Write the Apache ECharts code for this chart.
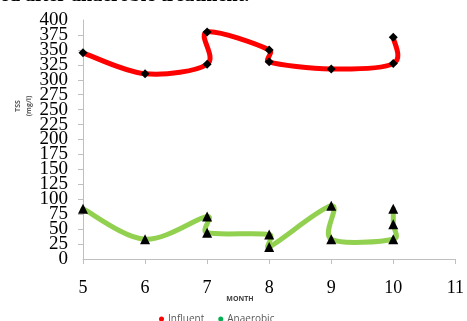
<!DOCTYPE html>
<html>
<head>
<meta charset="utf-8">
<script src="https://cdn.jsdelivr.net/npm/echarts@6/dist/echarts.min.js"></script>
<style>
  html, body { margin: 0; padding: 0; background: #fff; }
  #chart { width: 467px; height: 321px; }
</style>
</head>
<body>
<div id="chart"></div>
<script>
// Monthly TSS samples (mg/l); repeated months hold several readings
const influentMonths = [5, 6, 7, 7, 8, 8, 9, 10, 10];
const influentTSS    = [345, 310, 326, 380, 350, 330, 318, 327, 371];

const anaerobicMonths = [5, 6, 7, 7, 8, 8, 9, 9, 10, 10, 10];
const anaerobicTSS    = [84, 33, 71, 44, 41, 20, 89, 33, 33, 58, 84];

const xTicks = [5, 6, 7, 8, 9, 10, 11];
const yTicks = [0, 25, 50, 75, 100, 125, 150, 175, 200, 225, 250, 275, 300, 325, 350, 375, 400];

const pairs = (xs, ys) => xs.map((x, i) => [x, ys[i]]);
const influentData = pairs(influentMonths, influentTSS);
const anaerobicData = pairs(anaerobicMonths, anaerobicTSS);

const dist = (a, b) => Math.hypot(b[0] - a[0], b[1] - a[1]);

// Smoothed-line spline through pixel points: cubic Bezier segments with
// tension 1/6, each handle capped at half the segment length, so repeated
// months form small loops like spreadsheet "smoothed lines".
function splinePath(pts) {
  const n = pts.length;
  let d = 'M' + pts[0][0] + ' ' + pts[0][1];
  for (let i = 0; i < n - 1; i++) {
    const p0 = pts[Math.max(i - 1, 0)];
    const p1 = pts[i];
    const p2 = pts[i + 1];
    const p3 = pts[Math.min(i + 2, n - 1)];
    const d12 = dist(p1, p2);
    const d02 = dist(p0, p2);
    const d13 = dist(p1, p3);
    let f1 = 1 / 6, f2 = 1 / 6;
    if (d02 / 6 > d12 / 2 && d02 > 0) f1 = d12 / (2 * d02);
    if (d13 / 6 > d12 / 2 && d13 > 0) f2 = d12 / (2 * d13);
    const c1x = p1[0] + (p2[0] - p0[0]) * f1;
    const c1y = p1[1] + (p2[1] - p0[1]) * f1;
    const c2x = p2[0] - (p3[0] - p1[0]) * f2;
    const c2y = p2[1] - (p3[1] - p1[1]) * f2;
    d += ' C' + c1x + ' ' + c1y + ' ' + c2x + ' ' + c2y + ' ' + p2[0] + ' ' + p2[1];
  }
  return d;
}

function curveSeries(name, data, color) {
  return {
    name: name,
    type: 'custom',
    coordinateSystem: 'cartesian2d',
    encode: { x: 0, y: 1 },
    data: data,
    z: 2,
    renderItem: function (params, api) {
      if (params.dataIndex !== 0) return null;
      const pts = data.map(p => api.coord(p));
      return {
        type: 'path',
        shape: { pathData: splinePath(pts) },
        style: { stroke: color, lineWidth: 5, fill: 'none', lineJoin: 'round', lineCap: 'round' }
      };
    }
  };
}

function markerSeries(name, data, symbol, size) {
  return {
    name: name,
    type: 'scatter',
    data: data,
    symbol: symbol,
    symbolSize: size,
    itemStyle: { color: '#000', opacity: 1 },
    z: 3
  };
}

const yLabelStyle = { fontFamily: 'Liberation Serif', fontSize: 19, color: '#000', margin: 15 };
const yMin = yTicks[0];
const yMax = yTicks[yTicks.length - 1];

const chart = echarts.init(document.getElementById('chart'));
chart.setOption({
  animation: false,
  grid: { left: 83, right: 5, top: 20, bottom: 62, containLabel: false },
  xAxis: {
    type: 'value',
    min: xTicks[0],
    max: xTicks[xTicks.length - 1],
    interval: 1,
    axisLine: { lineStyle: { color: '#bfbfbf', width: 1 } },
    axisTick: { show: true, length: 5, lineStyle: { color: '#bfbfbf' } },
    axisLabel: { fontFamily: 'Liberation Serif', fontSize: 18, color: '#000', margin: 20 },
    splitLine: { show: false }
  },
  yAxis: [
    {
      // main value axis: every 25 mg/l, inner labels
      type: 'value',
      position: 'left',
      min: yMin,
      max: yMax,
      interval: 25,
      axisLine: { show: true, lineStyle: { color: '#bfbfbf', width: 1 } },
      axisTick: { show: true, length: 5, lineStyle: { color: '#bfbfbf' } },
      axisLabel: Object.assign({ showMinLabel: false, showMaxLabel: false }, yLabelStyle),
      splitLine: { show: false }
    },
    {
      // same scale, carries the end labels (0 and 400)
      type: 'value',
      position: 'left',
      min: yMin,
      max: yMax,
      interval: yMax - yMin,
      axisLine: { show: false },
      axisTick: { show: false },
      axisLabel: Object.assign({ showMinLabel: true, showMaxLabel: true }, yLabelStyle),
      splitLine: { show: false }
    }
  ],
  legend: {
    left: 154,
    top: 309,
    itemWidth: 5,
    itemHeight: 5,
    itemGap: 14,
    icon: 'circle',
    textStyle: { fontFamily: 'Open Sans', fontSize: 10, color: '#595959', padding: [0, 0, 0, -1] },
    data: [
      { name: 'Influent', itemStyle: { color: '#ff0000' } },
      { name: 'Anaerobic', itemStyle: { color: '#00b050' } }
    ]
  },
  graphic: [
    {
      type: 'text', left: 0, top: -14,
      style: { text: 'ed after anaerobic treatment.', font: 'bold 20px "Liberation Serif"', fill: '#000' }
    },
    {
      type: 'text', x: 23, y: 106, rotation: Math.PI / 2,
      style: {
        text: 'TSS\n(mg/l)', font: 'bold 7px "Open Sans"', fill: '#595959',
        align: 'center', verticalAlign: 'middle', lineHeight: 11
      }
    },
    {
      type: 'text', x: 240, y: 299,
      style: { text: 'MONTH', font: 'bold 7px "Open Sans"', fill: '#404040', align: 'center', verticalAlign: 'middle' }
    }
  ],
  series: [
    curveSeries('Influent', influentData, '#ff0000'),
    curveSeries('Anaerobic', anaerobicData, '#92d050'),
    markerSeries('Influent samples', influentData, 'diamond', 9),
    markerSeries('Anaerobic samples', anaerobicData, 'triangle', 10)
  ]
});
</script>
</body>
</html>
